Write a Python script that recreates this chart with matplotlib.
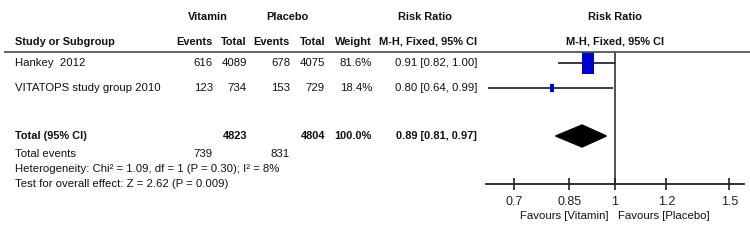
import numpy as np
import matplotlib
matplotlib.use("Agg")
import matplotlib.pyplot as plt
from matplotlib.patches import Polygon
from matplotlib.lines import Line2D

plt.rcParams['font.family'] = ['Liberation Sans', 'DejaVu Sans']

# study data
studies = ["Hankey  2012", "VITATOPS study group 2010"]
vit_events = [616, 123]
vit_total = [4089, 734]
pla_events = [678, 153]
pla_total = [4075, 729]
weights = [81.6, 18.4]
rr = [0.91, 0.80]
ci_lo = [0.82, 0.64]
ci_hi = [1.00, 0.99]

# pooled result
tot_vit, tot_pla = 4823, 4804
tot_ev_vit, tot_ev_pla = 739, 831
pooled_rr, pooled_lo, pooled_hi = 0.89, 0.81, 0.97
heterogeneity = "Heterogeneity: Chi\u00b2 = 1.09, df = 1 (P = 0.30); I\u00b2 = 8%"
overall = "Test for overall effect: Z = 2.62 (P = 0.009)"

ticks = [0.7, 0.85, 1, 1.2, 1.5]
tick_labels = ["0.7", "0.85", "1", "1.2", "1.5"]

W, H = 750, 248
fig = plt.figure(figsize=(W / 100, H / 100), dpi=100)
FS = 8.2
FSB = 7.9


def txt(x, y, s, ha="left", bold=False):
    # x, y in pixels from top-left
    fig.text(x / W, 1 - y / H, s, ha=ha, va="center", fontsize=FSB if bold else FS,
             fontweight="bold" if bold else "normal", color="#111111")


# headers
txt(208, 17, "Vitamin", "center", True)
txt(287, 17, "Placebo", "center", True)
txt(425, 17, "Risk Ratio", "center", True)
txt(615, 17, "Risk Ratio", "center", True)
txt(15, 42, "Study or Subgroup", bold=True)
for x, s in [(213, "Events"), (247, "Total"), (290, "Events"), (325, "Total"), (372, "Weight")]:
    txt(x, 42, s, "right", True)
txt(477, 42, "M-H, Fixed, 95% CI", "right", True)
txt(615, 42, "M-H, Fixed, 95% CI", "center", True)

fig.add_artist(Line2D([5 / W, 1], [1 - 52 / H] * 2, color="#555555", lw=1.3))

row_y = [63, 88]
for i, y in enumerate(row_y):
    txt(15, y, studies[i])
    txt(213, y, str(vit_events[i]), "right")
    txt(247, y, str(vit_total[i]), "right")
    txt(290, y, str(pla_events[i]), "right")
    txt(325, y, str(pla_total[i]), "right")
    txt(372, y, f"{weights[i]:.1f}%", "right")
    txt(477, y, f"{rr[i]:.2f} [{ci_lo[i]:.2f}, {ci_hi[i]:.2f}]", "right")

ty = 136
txt(15, ty, "Total (95% CI)", bold=True)
txt(247, ty, str(tot_vit), "right", True)
txt(325, ty, str(tot_pla), "right", True)
txt(372, ty, f"{sum(weights):.1f}%", "right", True)
txt(477, ty, f"{pooled_rr:.2f} [{pooled_lo:.2f}, {pooled_hi:.2f}]", "right", True)

txt(15, 154, "Total events")
txt(213, 154, str(tot_ev_vit), "right")
txt(290, 154, str(tot_ev_pla), "right")
txt(15, 169, heterogeneity)
txt(15, 184, overall)

# forest panel
ax_l, ax_r, ax_top, ax_bot = 486, 744, 52, 184
ax = fig.add_axes([ax_l / W, 1 - ax_bot / H, (ax_r - ax_l) / W, (ax_bot - ax_top) / H])
ax.set_xscale("log")
ax.set_xlim(0.633, 1.58)
ax.set_ylim(ax_bot, ax_top)
ax.patch.set_alpha(0)
for sp in ["top", "left", "right"]:
    ax.spines[sp].set_visible(False)
ax.spines["bottom"].set_linewidth(1.3)
ax.spines["bottom"].set_color("#222222")
ax.set_yticks([])
ax.set_xticks(ticks)
ax.set_xticklabels(tick_labels)
ax.minorticks_off()
ax.tick_params(axis="x", direction="inout", length=9, width=1.2, pad=4,
               labelsize=FS + 0.8, colors="#222222")

ax.axvline(1, color="#222222", lw=1.1)

box = [(-0.28, -0.5), (0.28, -0.5), (0.28, 0.5), (-0.28, 0.5), (-0.28, -0.5)]
wmax = max(weights)
for i, y in enumerate(row_y):
    ax.plot([ci_lo[i], ci_hi[i]], [y, y], color="#3a3a3a", lw=1.4, zorder=2)
    ax.plot(rr[i], y, marker=box, markersize=16.5 * (weights[i] / wmax) ** 0.7,
            color="#0000c8", markeredgewidth=0, zorder=3, linestyle="none")

ax.add_patch(Polygon([(pooled_lo, ty), (pooled_rr, ty - 11), (pooled_hi, ty), (pooled_rr, ty + 11)],
                     closed=True, color="black", zorder=3))

txt(608, 216, "Favours [Vitamin]", "right")
txt(618, 216, "Favours [Placebo]", "left")

fig.savefig("out.png", dpi=100, facecolor="white")
